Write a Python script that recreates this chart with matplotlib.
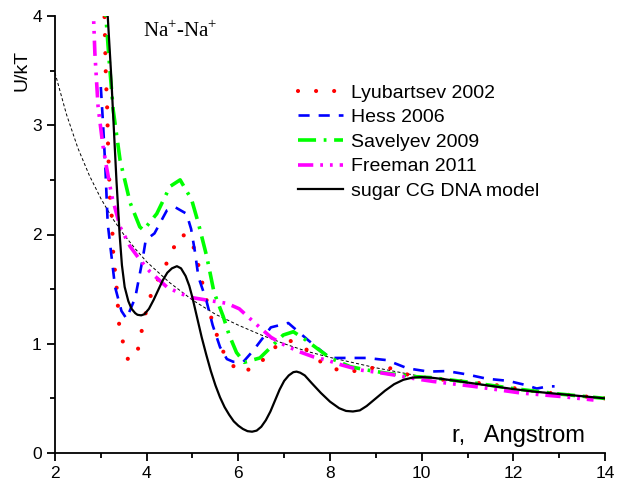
import numpy as np
import matplotlib
matplotlib.use("Agg")
import matplotlib.pyplot as plt
from matplotlib.ticker import MultipleLocator

plt.rcParams['font.family'] = ['Liberation Sans', 'DejaVu Sans']
plt.rcParams['mathtext.fontset'] = 'custom'
plt.rcParams['mathtext.rm'] = 'Liberation Serif'
plt.rcParams['lines.scale_dashes'] = False

# Lyubartsev 2002
r_lyu = [3.05, 3.08, 3.11, 3.14, 3.16, 3.20, 3.24, 3.27, 3.35, 3.40, 3.48, 3.59, 3.77, 3.85,
         3.93, 4.02, 4.15, 4.36, 4.55, 4.72, 4.95, 5.08, 5.25, 5.44, 5.59, 5.75, 6.05, 6.44,
         6.70, 7.07, 7.45, 7.78, 8.17, 8.55, 8.95, 9.33, 9.71, 10.2, 10.8, 11.25, 11.64, 12.2,
         13.0, 14.0]
u_lyu = [4.3, 4.0, 3.44, 3.14, 2.77, 2.32, 2.16, 1.83, 1.49, 1.17, 1.02, 0.86, 0.87, 1.03,
         1.20, 1.35, 1.52, 1.67, 1.84, 2.0, 1.98, 1.81, 1.49, 1.19, 1.01, 0.85, 0.735, 0.80,
         0.94, 1.04, 0.96, 0.84, 0.76, 0.75, 0.78, 0.775, 0.715, 0.68, 0.66, 0.64, 0.62, 0.58,
         0.54, 0.50]

# Hess 2006
r_hess = [3.0, 3.05, 3.10, 3.15, 3.2, 3.31, 3.45, 3.56, 3.75, 3.91, 3.98, 4.17, 4.44, 4.62,
          4.87, 4.97, 5.05, 5.13, 5.30, 5.44, 5.6, 5.75, 5.89, 6.11, 6.33, 6.71, 7.09, 7.53,
          8.0, 8.37, 8.8, 9.24, 9.69, 10.15, 10.55, 10.98, 11.42, 11.89, 12.29, 12.51, 12.76,
          12.9]
u_hess = [3.35, 3.0, 2.6, 2.1, 1.92, 1.52, 1.3, 1.23, 1.42, 1.77, 1.95, 2.01, 2.22, 2.25,
          2.19, 2.05, 1.85, 1.61, 1.40, 1.17, 0.97, 0.86, 0.835, 0.835, 0.94, 1.15, 1.19, 1.03,
          0.87, 0.87, 0.87, 0.85, 0.775, 0.745, 0.75, 0.72, 0.68, 0.66, 0.62, 0.59, 0.61,
          0.61]

# Savelyev 2009
r_sav = [3.05, 3.11, 3.18, 3.27, 3.42, 3.64, 3.85, 3.93, 4.22, 4.51, 4.73, 4.98, 5.13, 5.31,
         5.47, 5.67, 5.8, 5.96, 6.13, 6.47, 6.69, 6.98, 7.2, 7.42, 7.71, 8.0, 8.44, 8.8, 9.24,
         9.82, 10.2, 11.0, 12.0, 13.0, 14.0]
u_sav = [4.4, 4.0, 3.6, 3.14, 2.68, 2.29, 2.07, 2.04, 2.19, 2.44, 2.50, 2.32, 2.1, 1.80,
         1.47, 1.25, 1.08, 0.92, 0.83, 0.87, 0.96, 1.08, 1.11, 1.05, 0.96, 0.87, 0.79, 0.76, 0.73,
         0.70, 0.69, 0.65, 0.59, 0.54, 0.50]

# Freeman 2011
r_free = [2.80, 2.84, 2.87, 2.94, 3.04, 3.11, 3.24, 3.42, 3.64, 3.85, 4.07, 4.44, 4.73, 5.02,
          5.45, 5.75, 6.02, 6.36, 6.71, 6.95, 7.31, 7.64, 7.93, 8.26, 8.65, 9.09, 9.53, 9.85,
          10.25, 11.13, 12.15, 13.09, 13.75]
u_free = [4.3, 4.0, 3.66, 3.17, 2.83, 2.65, 2.35, 2.07, 1.89, 1.77, 1.66, 1.52, 1.46, 1.42,
          1.39, 1.37, 1.32, 1.19, 1.06, 1.0, 0.93, 0.88, 0.85, 0.805, 0.76, 0.735, 0.705, 0.68,
          0.655, 0.61, 0.55, 0.515, 0.485]

# sugar CG DNA model
r_cg = [3.08, 3.15, 3.22, 3.28, 3.34, 3.41, 3.46, 3.52, 3.6, 3.67, 3.75, 3.8, 3.88, 3.95,
        4.05, 4.15, 4.25, 4.35, 4.45, 4.55, 4.66, 4.75, 4.85, 4.93, 5.0, 5.1, 5.2, 5.3, 5.4,
        5.5, 5.6, 5.7, 5.8, 5.9, 6.0, 6.1, 6.2, 6.3, 6.4, 6.5, 6.6, 6.7, 6.8, 6.9, 7.0, 7.1,
        7.2, 7.27, 7.35, 7.45, 7.6, 7.8, 8.0, 8.2, 8.35, 8.5, 8.65, 8.8, 9.0, 9.2, 9.4, 9.6,
        9.8, 10.0, 10.2, 10.5, 11.0, 11.5, 12.0, 12.5, 13.0, 13.5, 14.0]
u_cg = [4.4, 4.0, 3.5, 3.0, 2.5, 2.0, 1.72, 1.52, 1.39, 1.32, 1.28, 1.265, 1.26, 1.27,
        1.32, 1.40, 1.49, 1.58, 1.65, 1.69, 1.71, 1.69, 1.62, 1.53, 1.42, 1.24, 1.06, 0.9, 0.75,
        0.62, 0.51, 0.42, 0.35, 0.29, 0.25, 0.22, 0.20, 0.195, 0.205, 0.24, 0.30, 0.38, 0.48,
        0.58, 0.66, 0.71, 0.74, 0.745, 0.735, 0.71, 0.64, 0.55, 0.47, 0.41, 0.385, 0.38, 0.39,
        0.43, 0.50, 0.57, 0.63, 0.67, 0.69, 0.695, 0.69, 0.675, 0.645, 0.615, 0.585, 0.56,
        0.54, 0.52, 0.50]

# thin dashed reference curve
r_ref = [2.0, 2.25, 2.5, 2.75, 3.0, 3.25, 3.5, 3.75, 4.0, 4.5, 5.0, 5.5, 6.0, 6.5, 7.0,
         7.5, 8.0, 9.0, 10.0, 11.0, 12.0, 13.0, 14.0]
u_ref = [3.48, 3.10, 2.79, 2.54, 2.33, 2.15, 2.0, 1.87, 1.75, 1.56, 1.40, 1.27, 1.17, 1.08,
         1.0, 0.93, 0.875, 0.78, 0.70, 0.64, 0.585, 0.54, 0.50]

fig = plt.figure(figsize=(6.18, 4.83), dpi=100)
ax = fig.add_axes([55 / 618, 1 - 453 / 483, 550 / 618, 437 / 483])

ax.plot(r_ref, u_ref, color='black', lw=0.7, linestyle=(0, (2.2, 1.6)))
ax.plot(r_lyu, u_lyu, color='#ff0000', lw=3.0, linestyle=(0, (0.01, 13)),
        dash_capstyle='round', label='Lyubartsev 2002')
ax.plot(r_hess, u_hess, color='#0000ff', lw=1.9, linestyle=(0, (8, 6.5)),
        label='Hess 2006')
ax.plot(r_sav, u_sav, color='#00ff00', lw=2.6, linestyle=(0, (13, 5.5, 2, 5.5)),
        label='Savelyev 2009')
ax.plot(r_free, u_free, color='#ff00ff', lw=2.6, linestyle=(0, (11, 5, 2, 5, 2, 5)),
        label='Freeman 2011')
ax.plot(r_cg, u_cg, color='black', lw=1.6, label='sugar CG DNA model')

ax.set_xlim(2, 14)
ax.set_ylim(0, 4)
ax.xaxis.set_major_locator(MultipleLocator(2))
ax.xaxis.set_minor_locator(MultipleLocator(1))
ax.yaxis.set_major_locator(MultipleLocator(1))
ax.yaxis.set_minor_locator(MultipleLocator(0.5))
for s in ['top', 'right']:
    ax.spines[s].set_visible(False)
for s in ['left', 'bottom']:
    ax.spines[s].set_linewidth(1.3)
ax.tick_params(which='major', direction='out', length=6, width=1.3, labelsize=12.5)
ax.tick_params(which='minor', direction='out', length=3.5, width=1.3)

ax.set_ylabel('U/kT', fontsize=14)
ax.yaxis.set_label_coords(-0.045, 0.876)

ax.text(0.722, 0.026, 'r,   Angstrom', transform=ax.transAxes, fontsize=17,
        va='baseline', ha='left')
ax.text(0.16, 0.953, 'Na$^{+}$-Na$^{+}$', transform=ax.transAxes, fontsize=15,
        va='baseline', ha='left', family='Liberation Serif')

ax.legend(loc='upper left', bbox_to_anchor=(298 / 618, 1 - 84 / 483),
          bbox_transform=fig.transFigure, frameon=False, fontsize=14,
          handlelength=2.3, handletextpad=0.45, labelspacing=0.36,
          borderpad=0, borderaxespad=0)

fig.savefig('out.png', dpi=100)
